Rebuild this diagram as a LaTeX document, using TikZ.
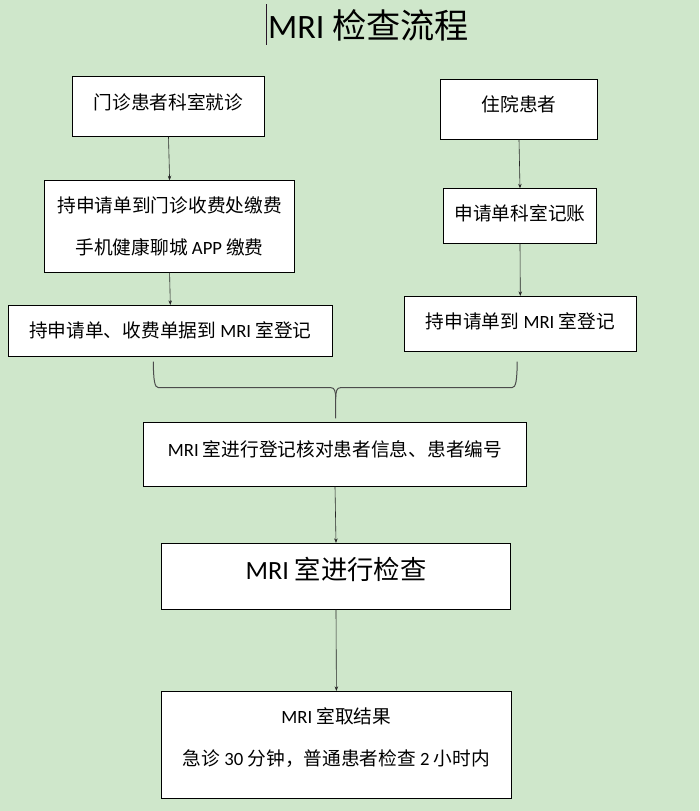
\documentclass[tikz,border=0pt]{standalone}
\usepackage{fontspec}
\setmainfont{Carlito}
\newfontfamily\cjk{Noto Sans CJK SC}
\newfontfamily\lat{Carlito}
\newcommand{\en}[1]{{\lat #1}}
\usepackage{tikz}
\usetikzlibrary{arrows.meta}
\definecolor{bggreen}{RGB}{207,231,203}
\definecolor{cursorcol}{RGB}{40,22,40}

\begin{document}
\begin{tikzpicture}[x=1pt, y=-1pt,
  box/.style 2 args={draw=black, fill=white, line width=0.8pt, minimum width=#1, minimum height=#2},
  txt/.style={font=\cjk\fontsize{18.7}{42.5}\selectfont, align=center, inner sep=0pt},
  arr/.style={-{Stealth[length=4.5pt,width=3.5pt]}, line width=0.6pt, black!85},
  curly/.style={line width=1pt, black!70}]
\useasboundingbox[fill=bggreen] (0,0) rectangle (699,811);

% title
\node[font=\cjk\fontsize{34.2}{40}\selectfont, inner sep=0pt] (title) at (368.5,25) {\en{MRI} 检查流程};
\draw[cursorcol, line width=1.3pt] (266.7,4) -- (266.7,45);

% left column
\node[box={191.7}{59.6}, label={[txt, yshift=3.7pt]center:门诊患者科室就诊}] (opd) at (168.5,106.5) {};
\node[box={250}{91.6}, label={[txt]center:持申请单到门诊收费处缴费\\手机健康聊城 \en{APP} 缴费}] (pay) at (169.6,226.5) {};
\node[box={324.6}{50.7}, label={[txt]center:持申请单、收费单据到 \en{MRI} 室登记}] (lreg) at (170.3,330.7) {};

% right column
\node[box={157}{60}, label={[txt, yshift=4.6pt]center:住院患者}] (inp) at (519,109.3) {};
\node[box={153}{54.6}, label={[txt, yshift=2.5pt]center:申请单科室记账}] (acct) at (520,216) {};
\node[box={231.8}{54.7}, label={[txt, yshift=2pt]center:持申请单到 \en{MRI} 室登记}] (rreg) at (520.3,323.7) {};

% middle
\node[box={383}{64}, label={[txt, yshift=5.3pt]center:\en{MRI} 室进行登记核对患者信息、患者编号}] (chk) at (335,454.3) {};
\node[box={349}{66}, label={[txt, font=\cjk\fontsize{26.3}{30}\selectfont, yshift=7pt]center:\en{MRI} 室进行检查}] (exam) at (336,576.3) {};
\node[box={350}{107}, label={[txt, font=\cjk\fontsize{18.7}{41.6}\selectfont, yshift=7.3pt]center:\en{MRI} 室取结果\\急诊 \en{30} 分钟，普通患者检查 \en{2} 小时内}] (res) at (336.4,744.8) {};

\draw[arr] (opd.south) -- (pay.north);
\draw[arr] (pay.south) -- (lreg.north);
\draw[arr] (inp.south) -- (acct.north);
\draw[arr] (acct.south) -- (rreg.north);

% brace joining both sides
\coordinate (bl) at (153.3,361.7);
\coordinate (br) at (517.2,361.7);
\coordinate (bt) at (335.7,418.3);
\draw[curly] (bl) .. controls (153.5,380) and (154.5,387.7) .. (158.5,387.7) -- (331,387.7) .. controls (334.5,387.7) and (335.7,391) .. (335.7,399) -- (bt);
\draw[curly] (br) .. controls (517,380) and (516,387.7) .. (512,387.7) -- (340.4,387.7) .. controls (336.9,387.7) and (335.7,391) .. (335.7,399);

\draw[arr] (chk.south) -- (exam.north);
\draw[arr] (exam.south) -- (res.north);
\end{tikzpicture}
\end{document}
